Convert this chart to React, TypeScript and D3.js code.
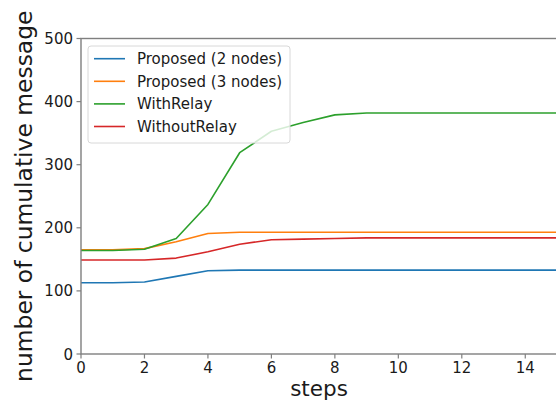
import { useEffect, useRef } from 'react';
import * as d3 from 'd3';

const steps = [0, 1, 2, 3, 4, 5, 6, 7, 8, 9, 10, 11, 12, 13, 14, 15];
const proposed2 = [113, 113, 114, 123, 132, 133, 133, 133, 133, 133, 133, 133, 133, 133, 133, 133];
const proposed3 = [165, 165, 167, 178, 191, 193, 193, 193, 193, 193, 193, 193, 193, 193, 193, 193];
const withRelay = [164, 164, 166, 183, 237, 319, 353, 367, 379, 382, 382, 382, 382, 382, 382, 382];
const withoutRelay = [149, 149, 149, 152, 162, 174, 181, 182, 183, 184, 184, 184, 184, 184, 184, 184];

const seriesNames = ['Proposed (2 nodes)', 'Proposed (3 nodes)', 'WithRelay', 'WithoutRelay'];
const seriesColors = ['#1f77b4', '#ff7f0e', '#2ca02c', '#d62728'];
const xTicks = [0, 2, 4, 6, 8, 10, 12, 14];
const yTicks = [0, 100, 200, 300, 400, 500];

export default function App() {
  const svgRef = useRef<SVGSVGElement>(null);

  useEffect(() => {
    if (!svgRef.current) return;
    const svg = d3.select(svgRef.current);
    svg.selectAll('*').remove();

    const width = 556;
    const height = 401;
    const font = '"DejaVu Sans", sans-serif';
    const axisColor = '#7f7f7f';

    const x = d3.scaleLinear().domain([0, 15]).range([81, 557]);
    const y = d3.scaleLinear().domain([0, 500]).range([354, 38.5]);

    svg.attr('width', width).attr('height', height);
    svg.append('rect').attr('width', width).attr('height', height).attr('fill', '#fff');

    const g = svg.append('g');

    // Lines
    const allSeries = [proposed2, proposed3, withRelay, withoutRelay];
    const line = d3.line<number>()
      .x((_, i) => x(steps[i]))
      .y((d) => y(d));

    allSeries.forEach((vals, k) => {
      g.append('path')
        .attr('d', line(vals) as string)
        .attr('fill', 'none')
        .attr('stroke', seriesColors[k])
        .attr('stroke-width', 1.6)
        .attr('stroke-linejoin', 'round');
    });

    // Spines
    const [x0, x1] = x.range();
    const [y0, y1] = y.range();
    g.append('rect')
      .attr('x', x0).attr('y', y1)
      .attr('width', x1 - x0).attr('height', y0 - y1)
      .attr('fill', 'none')
      .attr('stroke', axisColor)
      .attr('stroke-width', 1.4);

    // x ticks
    xTicks.forEach((t) => {
      g.append('line')
        .attr('x1', x(t)).attr('x2', x(t))
        .attr('y1', y0).attr('y2', y0 + 4.5)
        .attr('stroke', axisColor).attr('stroke-width', 1.2);
      g.append('text')
        .attr('x', x(t)).attr('y', y0 + 18.5)
        .attr('text-anchor', 'middle')
        .attr('font-family', font).attr('font-size', '15px')
        .attr('fill', '#1a1a1a')
        .text(t);
    });

    // y ticks
    yTicks.forEach((t) => {
      g.append('line')
        .attr('x1', x0 - 4.5).attr('x2', x0)
        .attr('y1', y(t)).attr('y2', y(t))
        .attr('stroke', axisColor).attr('stroke-width', 1.2);
      g.append('text')
        .attr('x', x0 - 8).attr('y', y(t) + 5.5)
        .attr('text-anchor', 'end')
        .attr('font-family', font).attr('font-size', '15px')
        .attr('fill', '#1a1a1a')
        .text(t);
    });

    // Axis labels
    g.append('text')
      .attr('x', (x0 + x1) / 2).attr('y', 396)
      .attr('text-anchor', 'middle')
      .attr('font-family', font).attr('font-size', '21.5px')
      .attr('fill', '#1a1a1a')
      .text('steps');

    g.append('text')
      .attr('transform', `translate(32, ${(y0 + y1) / 2}) rotate(-90)`)
      .attr('text-anchor', 'middle')
      .attr('font-family', font).attr('font-size', '23.4px')
      .attr('fill', '#1a1a1a')
      .text('number of cumulative message');

    // Legend
    const legend = g.append('g');
    legend.append('rect')
      .attr('x', 88).attr('y', 46)
      .attr('width', 202).attr('height', 97)
      .attr('rx', 3)
      .attr('fill', '#fff').attr('fill-opacity', 0.8)
      .attr('stroke', '#d8d8d8').attr('stroke-width', 1);

    seriesNames.forEach((name, k) => {
      const ly = 58.7 + k * 22.6;
      legend.append('line')
        .attr('x1', 94).attr('x2', 125)
        .attr('y1', ly).attr('y2', ly)
        .attr('stroke', seriesColors[k]).attr('stroke-width', 1.6);
      legend.append('text')
        .attr('x', 137).attr('y', ly + 5.3)
        .attr('font-family', font).attr('font-size', '15px')
        .attr('fill', '#1a1a1a')
        .text(name);
    });
  }, []);

  return <svg ref={svgRef} style={{ position: 'absolute', left: 0, top: 0 }} />;
}
